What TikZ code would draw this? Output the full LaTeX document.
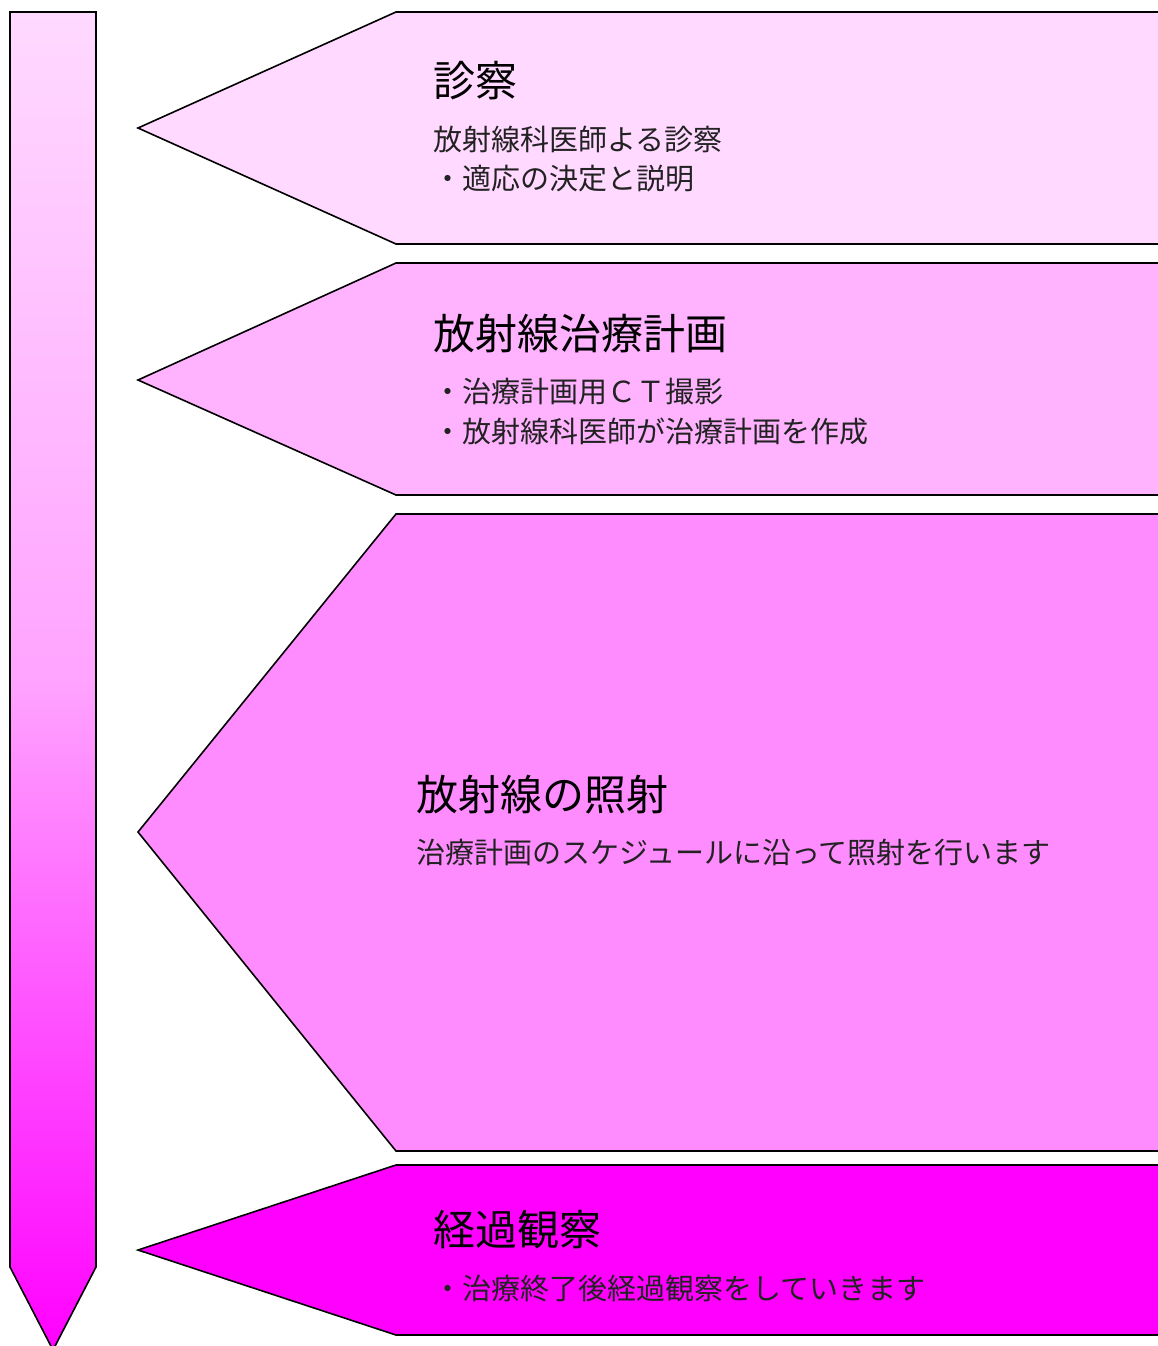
\documentclass[tikz,border=0pt]{standalone}
\usepackage{fontspec}
\setmainfont{Noto Sans CJK JP}
\definecolor{pinkA}{HTML}{FFD9FF}
\definecolor{pinkB}{HTML}{FFB3FF}
\definecolor{pinkC}{HTML}{FF8CFF}
\definecolor{pinkD}{HTML}{FF00FF}
\definecolor{bodytext}{HTML}{222222}
\begin{document}
\begin{tikzpicture}[x=1pt,y=-1pt,
  shapeline/.style={draw=black,line width=1.6pt,line join=miter},
  title/.style={anchor=west,inner sep=0pt,font=\fontsize{42}{46}\selectfont,text=black},
  body/.style={anchor=west,inner sep=0pt,font=\fontsize{29}{33}\selectfont,text=bodytext}]
\useasboundingbox (0,0) rectangle (1158,1346);
\fill[white] (0,0) rectangle (1158,1346);
\clip (0,0) rectangle (1158,1346);
% vertical timeline arrow
\shadedraw[shapeline,top color=pinkA,bottom color=pinkD,middle color=pinkB!60!pinkC]
  (10,12) -- (96,12) -- (96,1267) -- (53,1350) -- (10,1267) -- cycle;
% stage shapes
\draw[shapeline,fill=pinkA] (1170,12) -- (396,12) -- (138,128) -- (396,244) -- (1170,244);
\draw[shapeline,fill=pinkB] (1170,263) -- (396,263) -- (138,380) -- (396,495) -- (1170,495);
\draw[shapeline,fill=pinkC] (1170,514) -- (396,514) -- (138,832) -- (396,1151) -- (1170,1151);
\draw[shapeline,fill=pinkD] (1170,1165) -- (396,1165) -- (138,1250) -- (396,1335) -- (1170,1335);
% texts
\node[title] (t1) at (433,81) {診察};
\node[body] (b1a) at (433,139) {放射線科医師よる診察};
\node[body] (b1b) at (433,179) {・適応の決定と説明};
\node[title] (t2) at (433,334) {放射線治療計画};
\node[body] (b2a) at (433,392) {・治療計画用ＣＴ撮影};
\node[body] (b2b) at (433,431) {・放射線科医師が治療計画を作成};
\node[title] (t3) at (416,795) {放射線の照射};
\node[body] (b3a) at (416,853) {治療計画のスケジュールに沿って照射を行います};
\node[title] (t4) at (433,1230) {経過観察};
\node[body] (b4a) at (433,1289) {・治療終了後経過観察をしていきます};
\end{tikzpicture}
\end{document}
